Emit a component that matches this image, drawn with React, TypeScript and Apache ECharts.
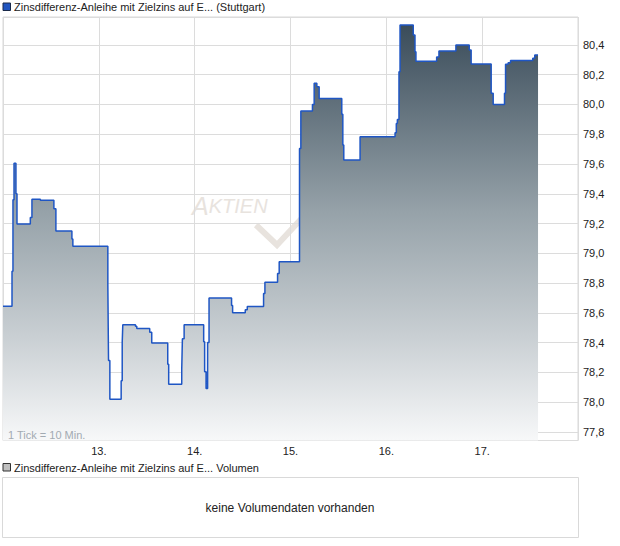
import React, { useEffect, useRef } from "react";
import * as echarts from "echarts";

// time axis in days (12 = start of 12th), price values
const times = [
  12.0, 12.094, 12.104, 12.115, 12.135, 12.146, 12.285, 12.302, 12.39, 12.531,
  12.552, 12.719, 12.729, 13.094, 13.101, 13.115, 13.233, 13.244, 13.25, 13.382,
  13.396, 13.531, 13.552, 13.719, 13.729, 13.865, 13.872, 13.89, 14.094, 14.104,
  14.119, 14.135, 14.15, 14.385, 14.396, 14.528, 14.549, 14.719, 14.733, 14.865,
  14.882, 15.094, 15.108, 15.229, 15.247, 15.275, 15.299, 15.535, 15.546, 15.556,
  15.726, 16.091, 16.104, 16.115, 16.132, 16.143, 16.281, 16.299, 16.309, 16.525,
  16.549, 16.726, 16.865, 16.885, 17.094, 17.115, 17.233, 17.244, 17.271, 17.296,
  17.528, 17.549, 17.583,
];
const prices = [
  78.645, 78.88, 79.36, 79.605, 79.4, 79.197, 79.24, 79.363, 79.356, 79.3,
  79.15, 79.096, 79.047, 78.787, 78.28, 78.02, 78.143, 78.4, 78.52, 78.51,
  78.495, 78.47, 78.397, 78.255, 78.12, 78.22, 78.426, 78.52, 78.405, 78.204,
  78.092, 78.4, 78.7, 78.65, 78.6, 78.62, 78.643, 78.73, 78.805, 78.865,
  78.943, 79.705, 79.956, 80.0, 80.142, 80.12, 80.04, 79.934, 79.728, 79.627,
  79.784, 79.81, 79.873, 79.9, 80.22, 80.534, 80.467, 80.355, 80.29, 80.32,
  80.36, 80.4, 80.366, 80.272, 80.075, 80.0, 80.075, 80.27, 80.28, 80.295,
  80.31, 80.333, 80.333,
];
const dayLabels = [13, 14, 15, 16, 17];
const seriesName = "Zinsdifferenz-Anleihe mit Zielzins auf E... (Stuttgart)";
const volumeName = "Zinsdifferenz-Anleihe mit Zielzins auf E... Volumen";
const noVolumeText = "keine Volumendaten vorhanden";
const tickNote = "1 Tick = 10 Min.";

const FONT = "'Liberation Sans', Arial, sans-serif";

export default function App() {
  const ref = useRef<HTMLDivElement>(null);
  useEffect(() => {
    document.body.style.margin = "0";
    const chart = echarts.init(ref.current!, null, { renderer: "svg" });
    const data = times.map((t, i) => [t, prices[i]]);
    chart.setOption({
      animation: false,
      textStyle: { fontFamily: FONT },
      grid: {
        left: 3,
        top: 17,
        right: 42,
        bottom: 105.5,
        show: true,
        borderColor: "#d9d9d9",
        borderWidth: 1,
        backgroundColor: "transparent",
      },
      xAxis: {
        type: "value",
        min: 12,
        max: 18,
        interval: 1,
        axisLine: { show: false },
        axisTick: { show: false },
        splitLine: { show: true, lineStyle: { color: "#dcdcdc", width: 1 } },
        axisLabel: {
          fontSize: 11,
          color: "#222",
          margin: 5,
          fontFamily: FONT,
          formatter: (v: number) =>
            dayLabels.indexOf(Math.round(v)) >= 0 && Math.abs(v - Math.round(v)) < 1e-6
              ? Math.round(v) + "."
              : "",
        },
      },
      yAxis: {
        type: "value",
        position: "right",
        min: 77.742,
        max: 80.588,
        splitNumber: 14,
        axisLine: { show: false },
        axisTick: { show: false },
        splitLine: { show: true, lineStyle: { color: "#dcdcdc", width: 1 } },
        axisLabel: {
          fontSize: 11,
          color: "#222",
          margin: 5,
          fontFamily: FONT,
          showMinLabel: false,
          showMaxLabel: false,
          formatter: (v: number) => {
            const r = Math.round(v * 5) / 5;
            if (Math.abs(v - r) > 1e-6) return "";
            return r.toFixed(1).replace(".", ",");
          },
        },
      },
      series: [
        {
          type: "line",
          name: seriesName,
          step: "end",
          data,
          symbol: "none",
          lineStyle: { color: "#1f56c4", width: 1.5 },
          areaStyle: {
            opacity: 1,
            color: new echarts.graphic.LinearGradient(0, 0, 0, 1, [
              { offset: 0, color: "#3a4c5a" },
              { offset: 0.45, color: "#96a2a9" },
              { offset: 0.75, color: "#c9cfd3" },
              { offset: 1, color: "#f7f8f9" },
            ]),
          },
          z: 2,
        },
      ],
      graphic: [
        // watermark
        {
          type: "text",
          left: 192,
          top: 193,
          z: 0,
          style: {
            text: "{a|A}{b|KTIEN}",
            rich: {
              a: { fontSize: 25, fontStyle: "italic", fill: "#e8e3de", fontFamily: FONT },
              b: { fontSize: 20, fontStyle: "italic", fill: "#e8e3de", fontFamily: FONT },
            },
          },
        },
        {
          type: "polyline",
          z: 0,
          shape: { points: [[256, 225], [277, 245], [303, 217]] },
          style: { stroke: "#e8e3de", lineWidth: 6, fill: "none" },
        },
        // tick note
        {
          type: "text",
          left: 8,
          top: 429,
          z: 100,
          style: { text: tickNote, fontSize: 11, fill: "#a2aab2", fontFamily: FONT },
        },
        // top legend
        {
          type: "rect",
          z: 100,
          shape: { x: 3, y: 3, width: 7.5, height: 7.5 },
          style: { fill: "#2055c0", stroke: "#1a2a4a", lineWidth: 1 },
        },
        {
          type: "text",
          left: 14,
          top: 1,
          z: 100,
          style: { text: seriesName, fontSize: 11, fill: "#222", fontFamily: FONT },
        },
        // bottom legend
        {
          type: "rect",
          z: 100,
          shape: { x: 3, y: 463.5, width: 7.5, height: 7.5 },
          style: { fill: "#c0c0c0", stroke: "#333", lineWidth: 1 },
        },
        {
          type: "text",
          left: 14,
          top: 462,
          z: 100,
          style: { text: volumeName, fontSize: 11, fill: "#222", fontFamily: FONT },
        },
        {
          type: "rect",
          z: 100,
          shape: { x: 2.5, y: 477.5, width: 576, height: 60 },
          style: { fill: "#fff", stroke: "#d9d9d9", lineWidth: 1 },
        },
        {
          type: "text",
          x: 290,
          y: 507.5,
          z: 101,
          style: {
            text: noVolumeText,
            fontSize: 12,
            fill: "#222",
            fontFamily: FONT,
            align: "center",
            verticalAlign: "middle",
          },
        },
      ],
    });
    return () => chart.dispose();
  }, []);
  return (
    <div
      ref={ref}
      style={{ position: "absolute", left: 0, top: 0, width: 620, height: 546 }}
    />
  );
}
